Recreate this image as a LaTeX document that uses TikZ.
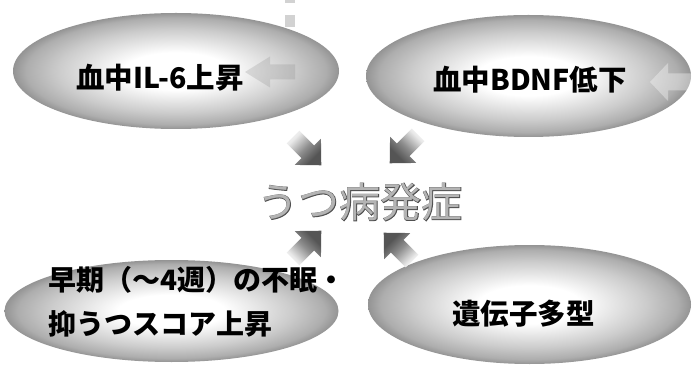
\documentclass[tikz,border=0pt]{standalone}
\usepackage{fontspec}
\newfontfamily\cjk{Noto Sans CJK JP}
\newfontfamily\cjkol{Noto Sans CJK JP}[FakeBold=2.5]
\usetikzlibrary{shapes.geometric,calc}
\definecolor{arrowdark}{RGB}{85,85,85}
\definecolor{centfill}{RGB}{180,180,180}
\definecolor{centline}{RGB}{80,80,80}
\pgfdeclareradialshading{ellshade}{\pgfpoint{0bp}{0bp}}{%
  color(0bp)=(white); color(8bp)=(white); color(13bp)=(black!10);
  color(18bp)=(black!20); color(23bp)=(black!32); color(25bp)=(black!42); color(50bp)=(black!42)}
\pgfdeclareverticalshading{arrshade}{100bp}{%
  color(0bp)=(arrowdark); color(30bp)=(arrowdark); color(48bp)=(black!45);
  color(70bp)=(black!8); color(100bp)=(white)}
% #1 style, #2 tail, #3 direction, #4 head-base distance, #5 length, #6 head half width, #7 shaft half width
\newcommand\barrow[7][]{%
  \path[#1] ($(#2)+(#3-90:#7)$) -- ($(#2)+(#3:#4)+(#3-90:#7)$) -- ($(#2)+(#3:#4)+(#3-90:#6)$)
    -- ($(#2)+(#3:#5)$) -- ($(#2)+(#3:#4)+(#3+90:#6)$) -- ($(#2)+(#3:#4)+(#3+90:#7)$)
    -- ($(#2)+(#3+90:#7)$) -- cycle;}
\begin{document}
\begin{tikzpicture}[x=1pt,y=1pt,
  ell/.style={ellipse, inner sep=0pt, shading=ellshade},
  lab/.style={font=\cjk\bfseries\fontsize{28.5}{44}\selectfont, text=black, inner sep=0pt},
  arrowshade/.style={shading=arrshade},
  faint/.style={fill=gray, fill opacity=0.22},
  cent/.style={inner sep=0pt, text=centfill, font=\cjk\fontsize{41}{45}\selectfont},
  centol/.style={inner sep=0pt, text=centline, font=\cjkol\fontsize{41}{45}\selectfont},
  speck/.style={fill=gray!35}]
\fill[white] (0,0) rectangle (692,364);
\useasboundingbox (0,0) rectangle (692,364);

% small specks at the top
\path[speck] (285,361) rectangle (295,364);
\path[speck] (285,337) rectangle (295,349);
\path[fill=gray!20] (287,316) rectangle (293,322);

% ellipses
\node[ell, minimum width=326pt, minimum height=116pt] (e1) at (176,293) {};
\node[ell, minimum width=325pt, minimum height=122pt] (e2) at (528.5,288) {};
\node[ell, minimum width=334pt, minimum height=102pt] (e3) at (171.5,53) {};
\node[ell, minimum width=323pt, minimum height=119pt] (e4) at (529.5,59.5) {};

% faint arrows inside the upper ellipses
\coordinate (f1) at (295,292);
\coordinate (f2) at (692,282);
\barrow[faint]{f1}{180}{25}{50}{15.5}{7.5}
\barrow[fill=white, fill opacity=0.35]{f2}{180}{24}{42}{19}{8.5}

% labels
\node[lab] (t1) at (160,286) {血中IL-6上昇};
\node[lab] (t2) at (530,284) {血中BDNF低下};
\node[lab, font=\cjk\bfseries\fontsize{28}{44}\selectfont, align=left, anchor=west] (t3) at (48,62.5) {早期（～4週）の不眠・\\抑うつスコア上昇};
\node[lab] (t4) at (523.5,50) {遺伝子多型};

% centre text
\node[centol] (c0) at (360,162) {うつ病発症};
\node[cent] (c) at (360,162) {うつ病発症};

% block arrows towards the centre
\coordinate (a1) at (293,227);
\coordinate (a2) at (418,229);
\coordinate (a3) at (293,105);
\coordinate (a4) at (412,103);
\barrow[arrowshade, shading angle=45]{a1}{-45}{21}{40}{18.5}{9}
\barrow[arrowshade, shading angle=-45]{a2}{-135}{21}{40}{18.5}{9}
\barrow[arrowshade, shading angle=135]{a3}{45}{21}{40}{18.5}{9}
\barrow[arrowshade, shading angle=-135]{a4}{135}{21}{40}{18.5}{9}
\end{tikzpicture}
\end{document}
